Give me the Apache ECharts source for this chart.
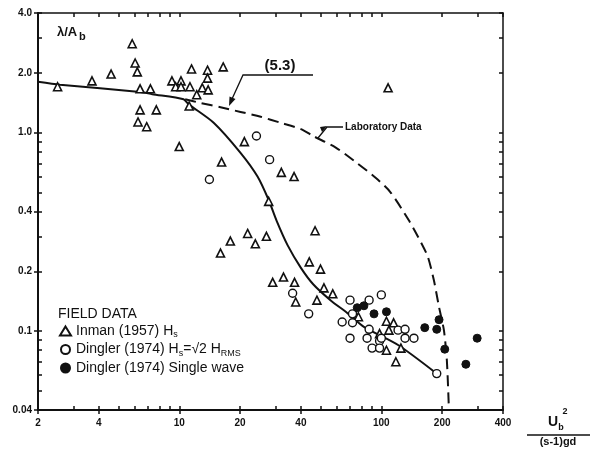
<!DOCTYPE html>
<html>
<head>
<meta charset="utf-8">
<script src="https://cdn.jsdelivr.net/npm/echarts@6/dist/echarts.min.js"></script>
<style>
  html, body { margin: 0; padding: 0; background: #fff; }
  #main { width: 590px; height: 449px; }
</style>
</head>
<body>
<div id="main"></div>
<script>
// x = Ub^2 / ((s-1) g d), y = lambda / Ab  (both log scales)
const inman = [
  [2.5, 1.70], [3.7, 1.82], [4.6, 1.97], [5.85, 2.8], [6.05, 2.24], [6.2, 2.02], [6.4, 1.66], [7.2, 1.66],
  [6.4, 1.30], [7.7, 1.30], [6.25, 1.13], [6.9, 1.07],
  [9.2, 1.82], [9.6, 1.70], [10.2, 1.82], [10.2, 1.70], [11.3, 1.70], [11.5, 2.09], [12.2, 1.55], [11.2, 1.36],
  [13.0, 1.68], [13.8, 2.06], [13.8, 1.88], [13.9, 1.64], [16.5, 2.14],
  [10, 0.85], [16.2, 0.71], [21, 0.90], [32, 0.63], [37, 0.60], [27.7, 0.45], [108, 1.68],
  [16, 0.247], [17.9, 0.284], [21.8, 0.31], [23.8, 0.275], [27, 0.30], [29, 0.176], [32.8, 0.187], [37.2, 0.176], [37.7, 0.14],
  [47, 0.32], [44, 0.223], [50, 0.205], [52, 0.165], [57.5, 0.154], [48, 0.143],
  [77, 0.118], [106, 0.112], [115, 0.110], [109, 0.101], [98, 0.097], [106, 0.080], [125, 0.082], [118, 0.070]
];
const dinglerRms = [
  [14.1, 0.58], [24.1, 0.96], [28, 0.73], [36.4, 0.155], [43.7, 0.122],
  [70, 0.143], [87, 0.143], [100, 0.152], [64, 0.111], [72, 0.122], [72, 0.110], [70, 0.092], [87, 0.102],
  [85, 0.092], [98, 0.089], [90, 0.082], [98, 0.082], [100, 0.092],
  [121, 0.101], [131, 0.102], [131, 0.092], [145, 0.092], [188, 0.061]
];
const dinglerSingle = [
  [76, 0.131], [82, 0.134], [92, 0.122], [106, 0.125], [164, 0.104], [188, 0.102], [193, 0.114],
  [206, 0.081], [262, 0.068], [298, 0.092]
];
// eq. (5.3) fit through field data
const fieldCurve = [
  [2, 1.80], [2.57, 1.74], [6.4, 1.60], [7.35, 1.56], [10.5, 1.47], [11.1, 1.39], [14.8, 1.12], [20.1, 0.79],
  [24.4, 0.60], [27.7, 0.457], [30.3, 0.36], [34.4, 0.27], [40, 0.208], [46, 0.172], [56, 0.143], [68, 0.123],
  [82, 0.105], [121, 0.085], [188, 0.061]
];
// laboratory data trend
const labCurve = [
  [10.7, 1.47], [12.7, 1.41], [16, 1.34], [20.1, 1.27], [25.3, 1.20], [31.7, 1.12], [40, 1.04], [46, 0.96],
  [59.5, 0.84], [76, 0.70], [94, 0.59], [111, 0.50], [137, 0.36], [157, 0.28], [170, 0.236], [182, 0.18],
  [193, 0.132], [204, 0.101], [211, 0.071], [216, 0.04]
];

const xTicks = [2, 3, 4, 5, 6, 7, 8, 9, 10, 20, 30, 40, 50, 60, 70, 80, 90, 100, 200, 300, 400];
const xLabels = [2, 4, 10, 20, 40, 100, 200, 400];
const yTicks = [0.04, 0.05, 0.06, 0.07, 0.08, 0.09, 0.1, 0.2, 0.3, 0.4, 0.5, 0.6, 0.7, 0.8, 0.9, 1, 2, 3, 4];
const yLabels = [0.04, 0.1, 0.2, 0.4, 1, 2, 4];
const yLabelText = ['0.04', '0.1', '0.2', '0.4', '1.0', '2.0', '4.0'];

const names = ['Inman (1957) Hs', 'Dingler (1974) Hs=√2 HRMS', 'Dingler (1974) Single wave'];
const legendText = {
  'Inman (1957) Hs': 'Inman (1957) H{s|s}',
  'Dingler (1974) Hs=√2 HRMS': 'Dingler (1974) H{s|s}=√2 H{s|RMS}',
  'Dingler (1974) Single wave': 'Dingler (1974) Single wave'
};

const FONT = 'Liberation Sans';
const black = '#111';

function xAxisOf(position, ticks, inside, showLine, showLabel) {
  return {
    type: 'log', logBase: 10, min: 2, max: 400, position: position,
    axisLine: { show: showLine, lineStyle: { color: black, width: position === 'bottom' ? 2 : 1.5 } },
    axisTick: { show: true, customValues: ticks, inside: inside, length: 4, lineStyle: { color: black, width: 1.5 } },
    axisLabel: {
      show: showLabel, customValues: xLabels, margin: 8,
      color: black, fontFamily: FONT, fontWeight: 'bold', fontSize: 10,
      formatter: v => String(Math.round(v))
    },
    splitLine: { show: false }
  };
}
function yAxisOf(position, ticks, inside, showLine, showLabel) {
  return {
    type: 'log', logBase: 10, min: 0.04, max: 4, position: position,
    axisLine: { show: showLine, lineStyle: { color: black, width: position === 'left' ? 2 : 1.5 } },
    axisTick: { show: true, customValues: ticks, inside: inside, length: 4, lineStyle: { color: black, width: 1.5 } },
    axisLabel: {
      show: showLabel, customValues: yLabels, margin: 6,
      color: black, fontFamily: FONT, fontWeight: 'bold', fontSize: 10,
      formatter: v => {
        let i = yLabels.findIndex(t => Math.abs(t - v) / t < 1e-6);
        return i >= 0 ? yLabelText[i] : '';
      }
    },
    splitLine: { show: false }
  };
}

const chart = echarts.init(document.getElementById('main'), null, { renderer: 'canvas' });

const option = {
  backgroundColor: '#fff',
  animation: false,
  grid: { left: 38, right: 87, top: 13, bottom: 39 },
  xAxis: [
    xAxisOf('bottom', xLabels, false, true, true),
    xAxisOf('bottom', xTicks, true, false, false),
    xAxisOf('top', xTicks, true, true, false)
  ],
  yAxis: [
    yAxisOf('left', yLabels, false, true, true),
    yAxisOf('left', yTicks, true, false, false),
    yAxisOf('right', yTicks, true, true, false)
  ],
  legend: {
    data: names,
    orient: 'vertical',
    left: 54, top: 319,
    itemWidth: 11, itemHeight: 9, itemGap: 3,
    formatter: n => legendText[n],
    textStyle: {
      color: black, fontFamily: FONT, fontSize: 14,
      rich: { s: { fontSize: 9, fontFamily: FONT, color: black, padding: [8, 0, 0, 0] } }
    }
  },
  series: [
    {
      type: 'line', data: fieldCurve, smooth: 0.25, showSymbol: false, symbol: 'none',
      lineStyle: { color: black, width: 2 }, z: 1
    },
    {
      type: 'line', data: labCurve, smooth: 0.25, showSymbol: false, symbol: 'none',
      lineStyle: { color: black, width: 2, type: [11, 6] }, z: 1
    },
    {
      name: names[0], type: 'scatter', data: inman, symbol: 'triangle', symbolSize: 8,
      itemStyle: { color: '#fff', borderColor: black, borderWidth: 1.6, opacity: 1 }, z: 3
    },
    {
      name: names[1], type: 'scatter', data: dinglerRms, symbol: 'circle', symbolSize: 8,
      itemStyle: { color: '#fff', borderColor: black, borderWidth: 1.4, opacity: 1 }, z: 3
    },
    {
      name: names[2], type: 'scatter', data: dinglerSingle, symbol: 'circle', symbolSize: 8,
      itemStyle: { color: black, borderColor: black, borderWidth: 1, opacity: 1 }, z: 4
    }
  ],
  graphic: [
    // y axis title
    { type: 'text', x: 57, y: 32, style: { text: 'λ/A', fill: black, font: 'bold 13px ' + FONT, verticalAlign: 'middle' } },
    { type: 'text', x: 79, y: 37, style: { text: 'b', fill: black, font: 'bold 11px ' + FONT, verticalAlign: 'middle' } },
    // (5.3) callout
    { type: 'text', x: 280, y: 66, style: { text: '(5.3)', fill: black, font: 'bold 15px ' + FONT, align: 'center', verticalAlign: 'middle' } },
    { type: 'polyline', shape: { points: [[313, 75], [243, 75], [232, 99]] }, style: { stroke: black, lineWidth: 1.3, fill: null } },
    { type: 'polygon', shape: { points: [[229, 106], [235.5, 99], [229.5, 96.5]] }, style: { fill: black } },
    // laboratory data callout
    { type: 'text', x: 345, y: 127, style: { text: 'Laboratory Data', fill: black, font: 'bold 10px ' + FONT, verticalAlign: 'middle' } },
    { type: 'polyline', shape: { points: [[343, 127], [327, 127], [318, 138]] }, style: { stroke: black, lineWidth: 1.3, fill: null } },
    { type: 'polygon', shape: { points: [[320, 127], [327, 126], [322, 132]] }, style: { fill: black } },
    // legend heading
    { type: 'text', x: 58, y: 314, style: { text: 'FIELD DATA', fill: black, font: '14px ' + FONT, verticalAlign: 'middle' } },
    // x axis title
    { type: 'text', x: 553, y: 422, style: { text: 'U', fill: black, font: 'bold 14px ' + FONT, align: 'center', verticalAlign: 'middle' } },
    { type: 'text', x: 561, y: 428, style: { text: 'b', fill: black, font: 'bold 9px ' + FONT, align: 'center', verticalAlign: 'middle' } },
    { type: 'text', x: 565, y: 412, style: { text: '2', fill: black, font: 'bold 9px ' + FONT, align: 'center', verticalAlign: 'middle' } },
    { type: 'line', shape: { x1: 527, y1: 435, x2: 590, y2: 435 }, style: { stroke: black, lineWidth: 1.5 } },
    { type: 'text', x: 558, y: 442, style: { text: '(s-1)gd', fill: black, font: 'bold 11px ' + FONT, align: 'center', verticalAlign: 'middle' } }
  ]
};

chart.setOption(option);
</script>
</body>
</html>
